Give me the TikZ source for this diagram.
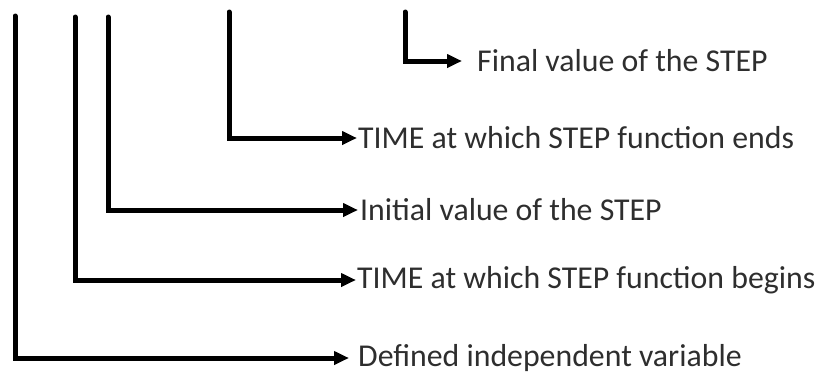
\documentclass[tikz,border=0pt]{standalone}
\usepackage{fontspec}
\setmainfont{Carlito}
\usetikzlibrary{arrows.meta}
\begin{document}
\begin{tikzpicture}[x=1pt,y=-1pt,
  lbl/.style={anchor=west,inner sep=0pt,font=\fontsize{31.8}{36}\selectfont,text=black!82},
  conn/.style={line width=5pt,line cap=round,line join=miter,-{Triangle[length=15pt,width=13pt]}}]
\useasboundingbox (0,0) rectangle (828,376);
\coordinate (t1) at (15,16);
\coordinate (t2) at (75,17);
\coordinate (t3) at (108,17);
\coordinate (t4) at (229,12);
\coordinate (t5) at (405,12);
\node[lbl] (n5) at (477,61) {Final value of the STEP};
\node[lbl] (n4) at (358,138) {TIME at which STEP function ends};
\node[lbl] (n3) at (360,210) {Initial value of the STEP};
\node[lbl] (n2) at (357,280) {TIME at which STEP function begins};
\node[lbl] (n1) at (358,358) {Defined independent variable};
\draw[conn] (t5) |- ([xshift=-15pt]n5.west);
\draw[conn] (t4) |- ([xshift=-1pt]n4.west);
\draw[conn] (t3) |- ([xshift=-2pt]n3.west);
\draw[conn] (t2) |- ([xshift=-1pt]n2.west);
\draw[conn] (t1) |- ([xshift=-9pt]n1.west);
\end{tikzpicture}
\end{document}
